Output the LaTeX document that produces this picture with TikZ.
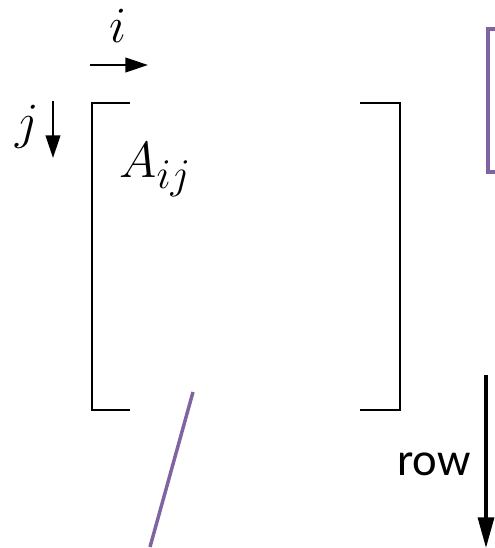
\documentclass[tikz,border=0pt]{standalone}
\usepackage{fontspec}
\newfontfamily\rowfont{Carlito}
\usetikzlibrary{arrows.meta}
\definecolor{mxPurple}{RGB}{128,100,162}
\definecolor{mxInk}{RGB}{0,0,0}
\newcommand{\bigidx}[1]{\scalebox{1.53}{\Huge$#1$}}

\begin{document}
\begin{tikzpicture}[
    x=0.75pt, y=-0.75pt,
    brack/.style={draw=mxInk, line width=1.5pt},
    pline/.style={draw=mxPurple, line width=2.6pt},
    idx/.style={inner sep=0pt},
    dirarrow/.style={draw=mxInk, line width=1.5pt,
                     -{Triangle[length=17pt, width=11pt]}}
]
\useasboundingbox (0,0) rectangle (494,548);

% Matrix brackets
\foreach \xa/\xb in {92/130, 400/360} {
   \draw[brack] (\xb,103) -- (\xa,103) -- (\xa,410) -- (\xb,410);
}

% Index labels and directions
\node[idx, anchor=base] (ilab) at (118,43) {\bigidx{i}};
\node[idx, anchor=base] (jlab) at (27,139) {\bigidx{j}};
\node[idx, anchor=base west] (aij) at (119,178) {\bigidx{A_{ij}}};
\coordinate (ia) at (90,65);
\coordinate (ib) at (148,65);
\coordinate (ja) at (53,101);
\coordinate (jb) at (53,158);
\draw[dirarrow] (ia) -- (ib);
\draw[dirarrow] (ja) -- (jb);

% Purple pieces
\draw[pline] (496,29) -- (488,29) -- (488,172) -- (496,172);
\coordinate (sa) at (193,392);
\coordinate (sb) at (150,547);
\draw[pline] (sa) -- (sb);

% Row direction
\node[anchor=base east, inner sep=0pt, font=\rowfont\fontsize{35}{40}\selectfont]
     (rowlab) at (471,475) {row};
\coordinate (ra) at (486,375);
\coordinate (rb) at (486,548);
\draw[draw=mxInk, line width=2.5pt, -{Triangle[length=23pt, width=12pt]}] (ra) -- (rb);
\end{tikzpicture}
\end{document}
